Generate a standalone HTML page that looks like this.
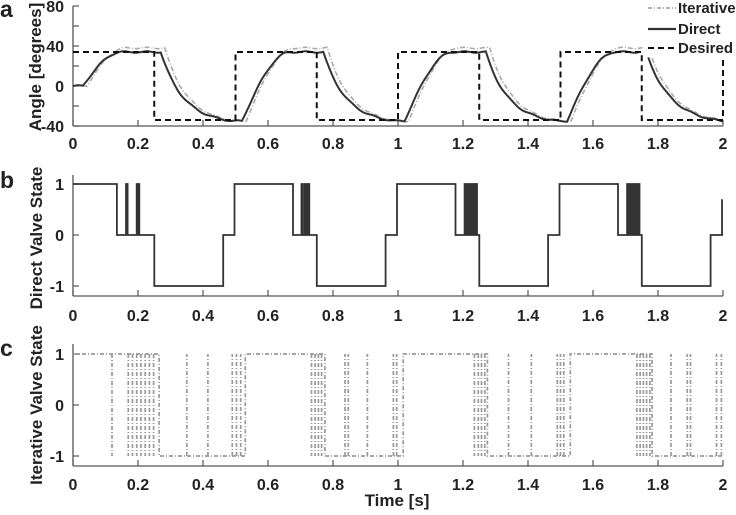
<!DOCTYPE html>
<html><head><meta charset="utf-8"><style>
html,body{margin:0;padding:0;background:#fff;}
svg{display:block;font-family:"Liberation Sans",Arial,sans-serif;font-weight:bold;}
</style></head><body>
<svg id="s" width="736" height="515" viewBox="0 0 736 515" xmlns="http://www.w3.org/2000/svg">
<g font-size="17" fill="#222">
<text x="0" y="17" font-size="23">a</text>
<text x="0" y="188" font-size="23">b</text>
<text x="0" y="356" font-size="23">c</text>
<text transform="translate(41,67) rotate(-90)" text-anchor="middle">Angle [degrees]</text>
<text transform="translate(42,238) rotate(-90)" text-anchor="middle">Direct Valve State</text>
<text transform="translate(42,405) rotate(-90)" text-anchor="middle">Iterative Valve State</text>
<text x="397" y="506" text-anchor="middle">Time [s]</text>
</g>
<g id="ax"></g>
<g id="data" fill="none"></g>
<rect x="645" y="0" width="91" height="57" fill="#fff"/>
<g font-size="15" fill="#222">
<line x1="648" y1="8" x2="676" y2="8" stroke="#999" stroke-width="1.5" stroke-dasharray="4,2,1,2"/>
<text x="678" y="13">Iterative</text>
<line x1="648" y1="29" x2="676" y2="29" stroke="#333" stroke-width="2.2"/>
<text x="678" y="34">Direct</text>
<line x1="648" y1="48" x2="676" y2="48" stroke="#111" stroke-width="2" stroke-dasharray="6,4"/>
<text x="678" y="53">Desired</text>
</g>
</svg>
<script>
var NS="http://www.w3.org/2000/svg";
function el(p,t,a,txt){var e=document.createElementNS(NS,t);for(var k in a)e.setAttribute(k,a[k]);if(txt!=null)e.textContent=txt;document.getElementById(p).appendChild(e);return e;}
function X(t){return 73+325*t;}
var panels=[
 {top:6,bot:126,ticks:[[80,"80"],[60,""],[40,"40"],[20,""],[0,"0"],[-20,""],[-40,"-40"]],lab:143},
 {top:175,bot:296,ticks:[[1,"1"],[0,"0"],[-1,"-1"]],lab:315,map:function(v){return 235-51*v;}},
 {top:344,bot:466,ticks:[[1,"1"],[0,"0"],[-1,"-1"]],lab:484,map:function(v){return 405-51*v;}}
];
panels[0].map=function(v){return 86-v;};
panels.forEach(function(p){
 el("ax","line",{x1:73,y1:p.top,x2:73,y2:p.bot,stroke:"#555","stroke-width":1.3});
 el("ax","line",{x1:73,y1:p.bot,x2:723,y2:p.bot,stroke:"#555","stroke-width":1.3});
 p.ticks.forEach(function(t){var y=p.map(t[0]);el("ax","line",{x1:73,y1:y,x2:79,y2:y,stroke:"#555","stroke-width":1.2});
  if(t[1])el("ax","text",{x:64,y:y+6,"text-anchor":"end","font-size":16,fill:"#222"},t[1]);});
 for(var i=0;i<=10;i++){var x=X(i*0.2);el("ax","line",{x1:x,y1:p.bot,x2:x,y2:p.bot-6,stroke:"#555","stroke-width":1.2});
  var s=(i*0.2).toFixed(1).replace(/\.0$/,"");el("ax","text",{x:x,y:p.lab+6,"text-anchor":"middle","font-size":16,fill:"#222"},s);}
});
var m=panels[0].map;
function angle(t,lag,amp){
 if(t<0.03+lag)return 0;
 if(t<0.25){var u=Math.min(1,(t-0.03-lag)/0.12);return amp*Math.sin(Math.PI/2*u);}
 var j=Math.floor((t-0.25)/0.25), s=0.25+0.25*j, ph=t-s;
 if(j%2==0){
  if(ph<0.02+lag)return amp;
  var tt=ph-0.02-lag;var f=(1-Math.exp(-tt/0.07))/(1-Math.exp(-0.22/0.07));return Math.max(-35,amp-(amp+35)*Math.min(1,f));
 } else {
  if(ph<0.02+lag)return -35;
  var u=Math.min(1,(ph-0.02-lag)/0.15);return -35+(amp+35)*Math.sin(Math.PI/2*u);
 }
}
function pathA(lag,amp){var d="",pen=false;for(var t=0;t<=2.0001;t+=0.002){
 if(t>1.742+lag&&t<1.77+lag){pen=false;continue;}
 var v;
 if(t>=1.77+lag){var u=(t-1.77-lag)/0.23;v=28-63*(1-Math.exp(-u*3))/(1-Math.exp(-3));}
 else v=angle(t,lag,amp);
 v+=Math.sin(t*90)*0.7;
 d+=(pen?"L":"M")+X(t).toFixed(1)+" "+m(v).toFixed(1);pen=true;}return d;}
el("data","path",{d:pathA(0.012,38),stroke:"#aaa","stroke-width":1.6,"stroke-dasharray":"5,2,1,2"});
el("data","path",{d:pathA(0,34),stroke:"#333","stroke-width":2});
var dd="M"+X(0)+" "+m(34);var lv=34;
[0.25,0.5,0.75,1,1.25,1.5,1.75].forEach(function(t){dd+="L"+X(t)+" "+m(lv);lv=-lv;dd+="L"+X(t)+" "+m(lv);});
dd+="L"+X(2)+" "+m(lv)+"L"+X(2)+" "+m(-lv);
el("data","path",{d:dd,stroke:"#111","stroke-width":2,"stroke-dasharray":"6,4"});
var mb=panels[1].map;
var segs=[];function add(t,v){segs.push([t,v]);}
for(var k=0;k<4;k++){var o=k*0.5;
 if(k>0)add(o-0.003,1);
 var pul;
 if(k==0){add(0.135,0);pul=[[0.163,0.168],[0.196,0.199],[0.201,0.204]];}
 else {add(o+0.177,0);pul=k==1?[[0.203,0.207],[0.213,0.216],[0.219,0.222],[0.224,0.227]]:[[0.205,0.208],[0.212,0.215],[0.219,0.222],[0.226,0.229],[0.233,0.236],[0.24,0.243]];}
 pul.forEach(function(p){add(o+p[0],1);add(o+p[1],0);});
 add(o+0.25,-1);add(o+0.462,0);
}
var db="M"+X(0)+" "+mb(1),cv=1;
segs.forEach(function(s){db+="L"+X(s[0]).toFixed(1)+" "+mb(cv)+"L"+X(s[0]).toFixed(1)+" "+mb(s[1]);cv=s[1];});
db+="L"+X(1.997)+" "+mb(0)+"L"+X(1.997)+" "+mb(0.7);
el("data","path",{d:db,stroke:"#333","stroke-width":1.8});
var mc=panels[2].map;var y1=mc(1),y0=mc(-1);
var cyc=[
 {down:[0.12,0.17,0.183,0.196,0.209,0.222,0.235,0.248],stay:0.265,up:[0.35,0.415,0.49,0.503,0.516],rise:0.53},
 {down:[0.734,0.745,0.755,0.765],stay:0.775,up:[0.837,0.847,0.906,0.986,0.996],rise:1.016},
 {down:[1.235,1.247,1.257,1.267],stay:1.275,up:[1.34,1.41,1.49,1.5,1.51],rise:1.53},
 {down:[1.735,1.745,1.755,1.765,1.775],stay:1.782,up:[1.84,1.89,1.9,1.98,1.995],rise:null}
];
var dc="M"+X(0)+" "+y1,dl="";
cyc.forEach(function(c){
 dc+="L"+X(c.stay).toFixed(1)+" "+y1+"L"+X(c.stay).toFixed(1)+" "+y0;
 if(c.rise){dc+="L"+X(c.rise).toFixed(1)+" "+y0+"L"+X(c.rise).toFixed(1)+" "+y1;}else dc+="L"+X(2)+" "+y0;
 c.down.forEach(function(t){dl+="M"+X(t).toFixed(1)+" "+y1+"L"+X(t).toFixed(1)+" "+y0;});
 c.up.forEach(function(t){dl+="M"+X(t).toFixed(1)+" "+y0+"L"+X(t).toFixed(1)+" "+y1;});
});
el("data","path",{d:dc,stroke:"#999","stroke-width":1.7,"stroke-dasharray":"4,2,1,2"});
el("data","path",{d:dl,stroke:"#999","stroke-width":1.7,"stroke-dasharray":"4,2,1,2"});
</script>
</body></html>
